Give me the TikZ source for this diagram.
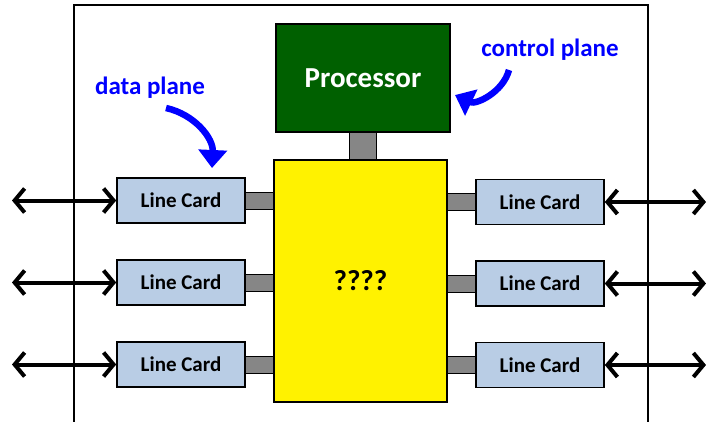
\documentclass[tikz,border=0pt]{standalone}
\usepackage{fontspec}
\setmainfont{Carlito}
\usetikzlibrary{arrows.meta}
\definecolor{procgreen}{RGB}{0,96,0}
\definecolor{cardblue}{RGB}{185,205,229}
\definecolor{notblue}{RGB}{0,0,255}

\begin{document}
\begin{tikzpicture}[x=1pt, y=-1pt,
    box/.style={draw=black, line width=1.6pt, inner sep=0pt},
    card/.style={box, fill=cardblue, minimum width=128pt, minimum height=45pt,
      font=\fontsize{21}{21}\selectfont\bfseries},
    link/.style={draw=black, line width=1pt, double=gray!95, double distance=16pt},
    io/.style={line width=4pt, {Straight Barb[length=10pt,width=24pt]}-{Straight Barb[length=10pt,width=24pt]}},
    note/.style={notblue, font=\fontsize{25}{25}\selectfont\bfseries},
    notearrow/.style={notblue, line width=6.5pt, -{Triangle[length=18pt,width=28pt]}}]
  \useasboundingbox (0,0) rectangle (706,422);
  % Router chassis, open at the bottom.
  \draw[line width=1.5pt] (74,422) -- (74,5) -- (648,5) -- (648,422);
  % Processor and switching fabric.
  \node[box, fill=procgreen, text=white, minimum width=174pt, minimum height=108pt,
    font=\fontsize{29}{29}\selectfont\bfseries] (proc) at (363,78) {Processor};
  \node[box, fill=yellow, minimum width=173pt, minimum height=242pt,
    font=\fontsize{29}{29}\selectfont\bfseries] (fabric) at (360.5,281) {????};
  \draw[link, double distance=26pt] (proc.south) -- (proc.south |- fabric.north);
  % Line cards on both sides, with their ports.
  \foreach \i/\yl/\yr in {1/200.5/202, 2/282.5/283.5, 3/364.5/365} {
    \node[card] (left\i) at (181,\yl) {Line Card};
    \node[card] (right\i) at (540,\yr) {Line Card};
    \coordinate (lport\i) at (12,\yl);
    \coordinate (rport\i) at (706,\yr);
    \draw[link] (left\i.east) -- (fabric.west |- left\i.east);
    \draw[link] (right\i.west) -- (fabric.east |- right\i.west);
    \draw[io] (lport\i) -- (left\i.west);
    \draw[io] (right\i.east) -- (rport\i);
  }
  % Plane labels.
  \node[note] (dplane) at (150,88) {data plane};
  \node[note] (cplane) at (550,50) {control plane};
  \coordinate (dfrom) at (166,108);
  \coordinate (dto) at (212,168);
  \coordinate (cfrom) at (509,70);
  \coordinate (cto) at (455,95);
  \draw[notearrow] (dfrom) to[bend left=40] (dto);
  \draw[notearrow] (cfrom) to[bend left=50] (cto);
\end{tikzpicture}
\end{document}
